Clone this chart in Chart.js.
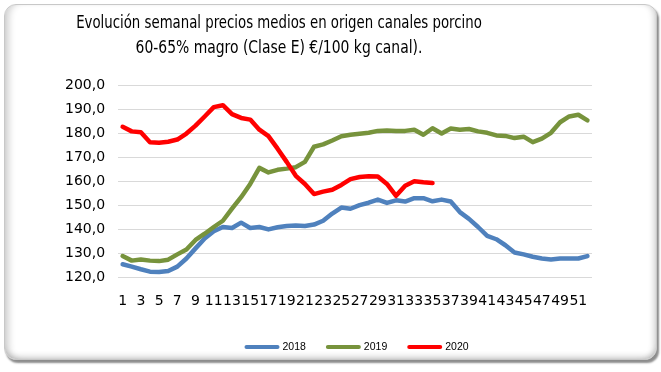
<!DOCTYPE html>
<html>
<head>
<meta charset="utf-8">
<script src="https://cdn.jsdelivr.net/npm/chart.js@4"></script>
<style>
  html, body { margin: 0; padding: 0; background: #fff; }
  #frame {
    position: absolute; left: 4px; top: 4px; width: 651px; height: 354px;
    border: 1px solid #c8c8c8; border-radius: 12px; background: #fff;
    box-shadow: 2px 3px 2px rgba(0,0,0,0.45),
                inset 8px 0 7px -4px rgba(0,0,0,0.18),
                inset -6px 0 6px -4px rgba(0,0,0,0.18),
                inset 0 -6px 6px -4px rgba(0,0,0,0.2);
  }
  #wrap { position: absolute; left: 0; top: 0; width: 661px; height: 372px; }
</style>
</head>
<body>
<div id="frame"></div>
<div id="wrap"><canvas id="chart" width="661" height="372"></canvas></div>
<script>
// Semanas del año
const weeks = [1,2,3,4,5,6,7,8,9,10,11,12,13,14,15,16,17,18,19,20,21,22,23,24,25,26,
               27,28,29,30,31,32,33,34,35,36,37,38,39,40,41,42,43,44,45,46,47,48,49,50,51,52];

// Precio medio €/100 kg canal
const p2018 = [125.4,124.4,123.3,122.3,122.2,122.6,124.4,127.8,132.0,136.1,
               139.1,140.9,140.5,142.7,140.5,140.9,139.9,140.8,141.3,141.5,
               141.3,141.9,143.5,146.5,149.0,148.5,150.0,151.0,152.3,150.9,
               152.0,151.5,152.9,152.9,151.6,152.3,151.5,147.1,144.3,140.9,
               137.2,135.8,133.3,130.3,129.5,128.5,127.8,127.4,127.8,127.8,
               127.8,128.8];
const p2019 = [128.8,126.9,127.4,126.9,126.7,127.3,129.5,131.5,135.5,138.1,
               140.9,143.5,148.5,153.3,158.8,165.5,163.6,164.7,165.2,165.8,
               168.0,174.3,175.3,176.9,178.7,179.3,179.7,180.1,180.9,181.1,
               180.9,180.9,181.4,179.3,182.0,179.8,181.9,181.4,181.7,180.7,
               180.1,179.0,178.8,177.9,178.5,176.2,177.7,180.1,184.5,186.9,
               187.6,185.3];
const p2020 = [182.6,180.7,180.3,176.2,176.0,176.4,177.3,179.8,183.1,186.9,
               190.8,191.6,187.9,186.3,185.6,181.4,178.7,173.5,168.0,162.2,
               158.8,154.6,155.6,156.4,158.4,160.8,161.7,162.0,161.9,158.8,
               153.9,158.1,159.9,159.5,159.2];

const titleLines = ['Evolución semanal precios medios en origen canales porcino',
                    '60-65% magro (Clase E) €/100 kg canal).'];

const axisFont = { family: 'DejaVu Sans', size: 14 };

// título en dos líneas, algo comprimido en horizontal
const titlePlugin = {
  id: 'titulo',
  afterDraw(chart) {
    const ctx = chart.ctx;
    const cx = 279;
    ctx.save();
    ctx.font = '17px "DejaVu Sans Condensed", sans-serif';
    ctx.fillStyle = '#000';
    ctx.textAlign = 'center';
    ctx.textBaseline = 'middle';
    ctx.translate(cx, 0);
    ctx.save();
    ctx.scale(0.87, 1);
    ctx.fillText(titleLines[0], 0, 24);
    ctx.restore();
    ctx.scale(0.91, 1);
    ctx.fillText(titleLines[1], 0, 49);
    ctx.restore();
  }
};

// leyenda centrada bajo el área del gráfico
const legendPlugin = {
  id: 'leyenda',
  afterDraw(chart) {
    const ctx = chart.ctx;
    const area = chart.chartArea;
    const lineW = 33, gap = 4, sep = 21;
    ctx.save();
    ctx.font = '10.5px "Liberation Sans", sans-serif';
    const items = chart.data.datasets.map(ds => ({
      label: ds.label, color: ds.borderColor, w: ctx.measureText(ds.label).width
    }));
    const total = items.reduce((s, it) => s + lineW + gap + it.w, 0) + sep * (items.length - 1);
    let x = (area.left + area.right) / 2 - total / 2 + 2;
    const y = 347;
    items.forEach(it => {
      ctx.strokeStyle = it.color;
      ctx.lineWidth = 4;
      ctx.lineCap = 'round';
      ctx.beginPath();
      ctx.moveTo(x + 1, y);
      ctx.lineTo(x + lineW - 1, y);
      ctx.stroke();
      ctx.fillStyle = '#000';
      ctx.textBaseline = 'middle';
      ctx.fillText(it.label, x + lineW + gap, y + 0.5);
      x += lineW + gap + it.w + sep;
    });
    ctx.restore();
  }
};

const line = (label, data, color, order) => ({
  label, data, borderColor: color, backgroundColor: color, order,
  borderWidth: 4.5, pointRadius: 0, tension: 0, fill: false,
  borderJoinStyle: 'round', borderCapStyle: 'round'
});

new Chart(document.getElementById('chart').getContext('2d'), {
  type: 'line',
  data: {
    labels: weeks,
    datasets: [
      line('2018', p2018, '#4f81bd', 3),
      line('2019', p2019, '#77933c', 2),
      line('2020', p2020, '#ff0000', 1)
    ]
  },
  options: {
    responsive: false,
    animation: false,
    devicePixelRatio: 1,
    layout: { padding: { left: 52, right: 69, top: 85, bottom: 46 } },
    plugins: {
      legend: { display: false },
      title: { display: false },
      tooltip: { enabled: false }
    },
    scales: {
      x: {
        offset: true,
        grid: { display: false, drawTicks: false },
        border: { display: false },
        ticks: {
          autoSkip: false, maxRotation: 0, padding: 16,
          color: '#000', font: axisFont,
          callback: (v, i) => (i % 2 === 0 ? weeks[i] : '')
        }
      },
      y: {
        min: 120, max: 200,
        grid: { color: '#d9d9d9', lineWidth: 1, drawTicks: false },
        border: { display: false },
        ticks: {
          stepSize: 10, padding: 13, color: '#000', font: axisFont,
          callback: v => v.toFixed(1).replace('.', ',')
        }
      }
    }
  },
  plugins: [titlePlugin, legendPlugin]
});
</script>
</body>
</html>
